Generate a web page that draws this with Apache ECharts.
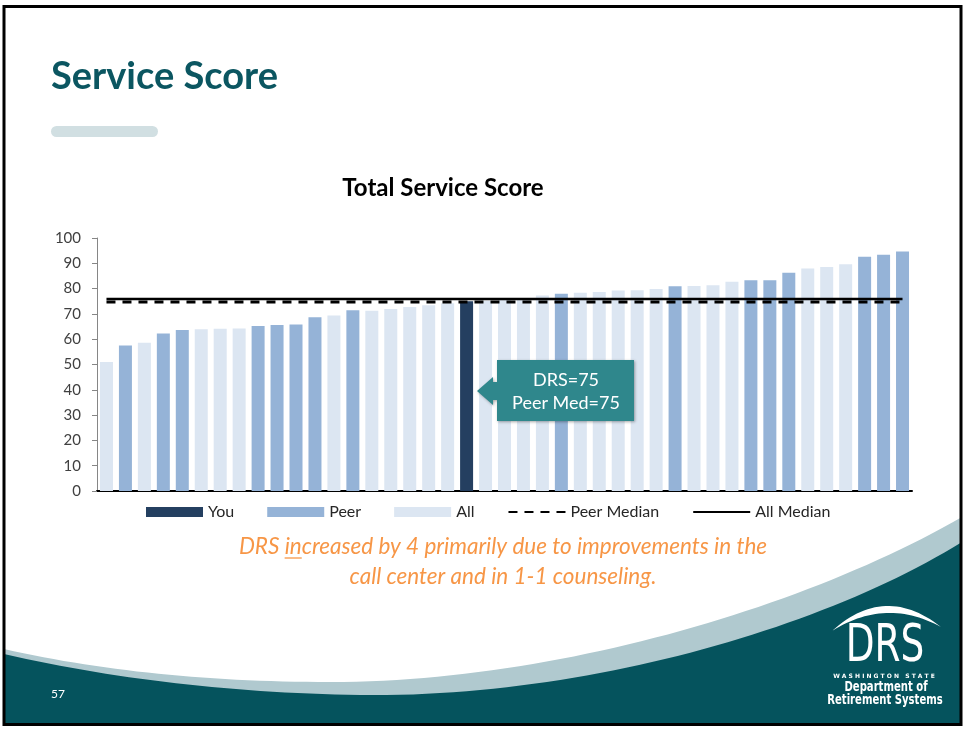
<!DOCTYPE html>
<html lang="en">
<head>
<meta charset="UTF-8">
<title>Service Score</title>
<style>
    body{ margin:0; background:#fff; }
    #main{ width:965px; height:730px; }
</style>
<script src="https://cdn.jsdelivr.net/npm/echarts@6.0.0/dist/echarts.min.js"></script>
</head>
<body>
<div id="main"></div>
<script type="text/javascript">
    // total service score of each system, sorted low to high
    var scores = [51, 57.5, 58.6, 62.3, 63.6, 63.9, 64.1, 64.2, 65.2, 65.6,
                  65.8, 68.7, 69.4, 71.4, 71.2, 71.9, 72.7, 73.4, 74.2, 75,
                  75.2, 75.5, 75.8, 77.3, 78.0, 78.4, 78.7, 79.2, 79.3, 79.8,
                  80.9, 81.0, 81.3, 82.7, 83.3, 83.3, 86.3, 87.9, 88.5, 89.6,
                  92.6, 93.4, 94.7];
    // which group each bar belongs to
    var groups = ['All','Peer','All','Peer','Peer','All','All','All','Peer','Peer',
                  'Peer','Peer','All','Peer','All','All','All','All','All','You',
                  'All','All','All','All','Peer','All','All','All','All','All',
                  'Peer','All','All','All','Peer','Peer','Peer','All','All','All',
                  'Peer','Peer','Peer'];
    var peerMedian = 74.7;
    var allMedian = 75.9;
    var yMin = 0, yMax = 100, yStep = 10;

    var cats = scores.map(function(v, i){ return 'S' + (i + 1); });
    function pick(name){
        return scores.map(function(v, i){ return groups[i] === name ? v : null; });
    }
    var first = cats[0], last = cats[cats.length - 1];

    // sample bezier curves into polygon points (decoration only)
    function quad(p0, p1, p2, n){
        var pts = [];
        for (var i = 0; i <= n; i++){
            var t = i / n, u = 1 - t;
            pts.push([u*u*p0[0] + 2*u*t*p1[0] + t*t*p2[0], u*u*p0[1] + 2*u*t*p1[1] + t*t*p2[1]]);
        }
        return pts;
    }
    function cubic(p0, p1, p2, p3, n){
        var pts = [];
        for (var i = 0; i <= n; i++){
            var t = i / n, u = 1 - t;
            pts.push([u*u*u*p0[0] + 3*u*u*t*p1[0] + 3*u*t*t*p2[0] + t*t*t*p3[0],
                      u*u*u*p0[1] + 3*u*u*t*p1[1] + 3*u*t*t*p2[1] + t*t*t*p3[1]]);
        }
        return pts;
    }
    var bandPts = quad([4,649],[150,682],[330,682],30)
        .concat(cubic([330,682],[550,682],[800,610],[962,517],50))
        .concat([[962,726],[4,726]]);
    var tealPts = quad([4,654],[170,692],[360,695],30)
        .concat(cubic([360,695],[580,698],[820,630],[962,542],50))
        .concat([[962,726],[4,726]]);
    var arcPts = quad([832,631],[885,583],[941,627],30)
        .concat(quad([941,627],[886,597],[832,631],30));

    // underline under "in" in the caption
    var capFont = 'italic 22.5px Lato';
    var line1 = 'DRS increased by 4 primarily due to improvements in the';
    var ctx = document.createElement('canvas').getContext('2d');
    ctx.font = capFont;
    var capW = ctx.measureText(line1).width;
    var ulX0 = 503 - capW / 2 + ctx.measureText('DRS ').width;
    var ulX1 = 503 - capW / 2 + ctx.measureText('DRS in').width;

    var teal = '#05535D';
    var narrow = '"Liberation Sans Narrow", "DejaVu Sans Condensed", sans-serif';

    var option = {
        animation: false,
        title: {
            text: 'Total Service Score',
            left: 438, top: 171, textAlign: 'center',
            textStyle: { fontFamily: 'Lato', fontSize: 24, fontWeight: 'bold', color: '#000' }
        },
        legend: {
            left: 141, top: 499,
            itemWidth: 57, itemHeight: 10, itemGap: 33,
            textStyle: { fontFamily: 'Lato', fontSize: 16, color: '#262626' },
            data: [
                { name: 'You', icon: 'rect' },
                { name: 'Peer', icon: 'rect' },
                { name: 'All', icon: 'rect' },
                { name: 'Peer Median', lineStyle: { width: 2 }, itemStyle: { opacity: 0 } },
                { name: 'All Median', lineStyle: { width: 2 }, itemStyle: { opacity: 0 } }
            ]
        },
        grid: { left: 97, right: 53, top: 238, bottom: 239 },
        xAxis: {
            type: 'category',
            data: cats,
            axisLine: { lineStyle: { color: '#000', width: 2 } },
            axisTick: { show: false },
            axisLabel: { show: false }
        },
        yAxis: {
            type: 'value',
            min: yMin, max: yMax, interval: yStep,
            splitLine: { show: false },
            axisLine: { show: true, lineStyle: { color: '#868686' } },
            axisTick: { show: true, length: 5, lineStyle: { color: '#868686' } },
            axisLabel: { margin: 16, fontFamily: 'Lato', fontSize: 15, color: '#404040' }
        },
        series: [
            { name: 'You', type: 'bar', barWidth: 13, barGap: '-100%', data: pick('You'),
              itemStyle: { color: '#243F60' } },
            { name: 'Peer', type: 'bar', barWidth: 13, barGap: '-100%', data: pick('Peer'),
              itemStyle: { color: '#95B3D7' } },
            { name: 'All', type: 'bar', barWidth: 13, barGap: '-100%', data: pick('All'),
              itemStyle: { color: '#DCE6F2' } },
            { name: 'Peer Median', type: 'line', symbol: 'none', z: 5,
              data: [[first, peerMedian], [last, peerMedian]],
              itemStyle: { color: '#000' },
              lineStyle: { color: '#000', width: 3, type: [9, 7] } },
            { name: 'All Median', type: 'line', symbol: 'none', z: 5,
              data: [[first, allMedian], [last, allMedian]],
              itemStyle: { color: '#000' },
              lineStyle: { color: '#000', width: 2.5 } }
        ],
        graphic: [
            // slide title and pill
            { type: 'text', z: 10, style: { text: 'Service Score', x: 51, y: 77, verticalAlign: 'middle',
                font: 'bold 38px Lato', fill: '#0B5661' } },
            { type: 'rect', z: 10, shape: { x: 51, y: 126, width: 107, height: 11, r: 5.5 },
              style: { fill: '#D1DFE2' } },
            // footer swoosh
            { type: 'polygon', z: 1, shape: { points: bandPts }, style: { fill: '#B0C9CF' } },
            { type: 'polygon', z: 2, shape: { points: tealPts }, style: { fill: teal } },
            { type: 'text', z: 3, style: { text: '57', x: 51, y: 694, verticalAlign: 'middle',
                font: '12px Lato', fill: '#fff' } },
            // DRS logo
            { type: 'polygon', z: 3, shape: { points: arcPts }, style: { fill: '#fff' } },
            { type: 'text', z: 3, scaleX: 0.8, originX: 885, originY: 646,
              style: { text: 'DRS', x: 885, y: 647, align: 'center', verticalAlign: 'middle',
                font: '52px ' + narrow, fill: '#fff' } },
            { type: 'text', z: 3, style: { text: 'W A S H I N G T O N   S T A T E', x: 884, y: 676,
                align: 'center', verticalAlign: 'middle', font: 'bold 6px "DejaVu Sans"', fill: '#fff' } },
            { type: 'text', z: 3, scaleX: 0.8, originX: 886, originY: 687,
              style: { text: 'Department of', x: 886, y: 687, align: 'center', verticalAlign: 'middle',
                font: 'bold 14px ' + narrow, fill: '#fff' } },
            { type: 'text', z: 3, scaleX: 0.8, originX: 885, originY: 700,
              style: { text: 'Retirement Systems', x: 885, y: 700, align: 'center', verticalAlign: 'middle',
                font: 'bold 14px ' + narrow, fill: '#fff' } },
            // callout
            { type: 'polygon', z: 20,
              shape: { points: [[497,360],[634,360],[634,421],[497,421],[497,400],[493,400],[493,405],
                                [477,391],[493,377],[493,382],[497,382]] },
              style: { fill: '#2F878C', shadowBlur: 3, shadowOffsetX: 1, shadowOffsetY: 1, shadowColor: 'rgba(0,0,0,0.35)' } },
            { type: 'text', z: 21, style: { text: 'DRS=75', x: 566, y: 380, align: 'center', verticalAlign: 'middle',
                font: '18px Lato', fill: '#fff' } },
            { type: 'text', z: 21, style: { text: 'Peer Med=75', x: 566, y: 403, align: 'center', verticalAlign: 'middle',
                font: '18px Lato', fill: '#fff' } },
            // caption
            { type: 'text', z: 10, style: { text: line1, x: 503, y: 547, align: 'center', verticalAlign: 'middle',
                font: capFont, fill: '#F79646' } },
            { type: 'text', z: 10, style: { text: 'call center and in 1-1 counseling.', x: 503, y: 577,
                align: 'center', verticalAlign: 'middle', font: capFont, fill: '#F79646' } },
            { type: 'line', z: 10, shape: { x1: ulX0, y1: 558, x2: ulX1, y2: 558 },
              style: { stroke: '#F79646', lineWidth: 1.3 } },
            // slide frame
            { type: 'rect', z: 100, shape: { x: 4, y: 6.5, width: 957, height: 718 },
              style: { fill: null, stroke: '#000', lineWidth: 3 } }
        ]
    };

    var chart = echarts.init(document.getElementById('main'));
    chart.setOption(option);
</script>
</body>
</html>
